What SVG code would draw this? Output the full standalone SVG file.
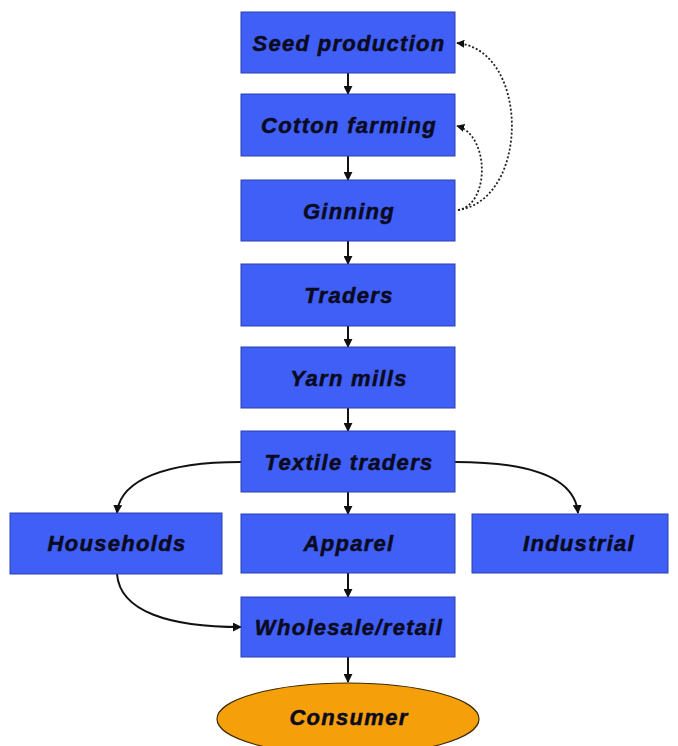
<svg xmlns="http://www.w3.org/2000/svg" width="678" height="746" viewBox="0 0 678 746">
<style>
.box{fill:#3f5ff7;stroke:#2a3fb0;stroke-width:1}
.lbl{font-family:"Liberation Sans",Arial,sans-serif;font-weight:bold;font-style:italic;font-size:22px;letter-spacing:1.3px;fill:#0a0a20;stroke:#0a0a20;stroke-width:0.5;text-anchor:middle;dominant-baseline:central}
.c{fill:none;stroke:#111;stroke-width:2}
.d{fill:none;stroke:#222;stroke-width:1.8;stroke-dasharray:2 2}
</style>
<defs>
<marker id="ah" viewBox="0 0 10 10" refX="9" refY="5" markerWidth="4.5" markerHeight="4.5" orient="auto"><path d="M0,0L10,5L0,10z" fill="#111"/></marker>
</defs>
<rect width="678" height="746" fill="#fff"/>
<g id="connectors">
<path class="c" marker-end="url(#ah)" d="M348,73V94"/>
<path class="c" marker-end="url(#ah)" d="M348,156V180"/>
<path class="c" marker-end="url(#ah)" d="M348,241V264"/>
<path class="c" marker-end="url(#ah)" d="M348,326V347"/>
<path class="c" marker-end="url(#ah)" d="M348,408V431"/>
<path class="c" marker-end="url(#ah)" d="M348,492V514"/>
<path class="c" marker-end="url(#ah)" d="M348,573V597"/>
<path class="c" marker-end="url(#ah)" d="M348,657V682"/>
<path class="c" marker-end="url(#ah)" d="M241,462C165,462 120,480 117,513"/>
<path class="c" marker-end="url(#ah)" d="M455,462C535,462 575,480 578,513"/>
<path class="c" marker-end="url(#ah)" d="M117,574C120,612 170,627 241,627"/>
<path class="d" marker-end="url(#ah)" d="M458,210C530,200 530,50 457,43"/>
<path class="d" marker-end="url(#ah)" d="M458,210C490,205 490,135 457,126"/>
</g>
<g id="seed"><rect class="box" x="241" y="12" width="214" height="61"/><text class="lbl" x="349" y="43">Seed production</text></g>
<g id="cotton"><rect class="box" x="241" y="94" width="214" height="62"/><text class="lbl" x="349" y="125">Cotton farming</text></g>
<g id="ginning"><rect class="box" x="241" y="180" width="214" height="61"/><text class="lbl" x="349" y="211">Ginning</text></g>
<g id="traders"><rect class="box" x="241" y="264" width="214" height="62"/><text class="lbl" x="349" y="295">Traders</text></g>
<g id="yarn"><rect class="box" x="241" y="347" width="214" height="61"/><text class="lbl" x="349" y="378">Yarn mills</text></g>
<g id="textile"><rect class="box" x="241" y="431" width="214" height="61"/><text class="lbl" x="349" y="462">Textile traders</text></g>
<g id="households"><rect class="box" x="10" y="513" width="212" height="61"/><text class="lbl" x="117" y="543">Households</text></g>
<g id="apparel"><rect class="box" x="241" y="514" width="214" height="59"/><text class="lbl" x="349" y="543">Apparel</text></g>
<g id="industrial"><rect class="box" x="472" y="514" width="196" height="59"/><text class="lbl" x="579" y="543">Industrial</text></g>
<g id="wholesale"><rect class="box" x="241" y="597" width="214" height="60"/><text class="lbl" x="349" y="627">Wholesale/retail</text></g>
<g id="consumer"><ellipse cx="348" cy="719" rx="131" ry="36" fill="#f5a00a" stroke="#3a2a00" stroke-width="1.2"/><text class="lbl" x="349" y="717">Consumer</text></g>
</svg>
